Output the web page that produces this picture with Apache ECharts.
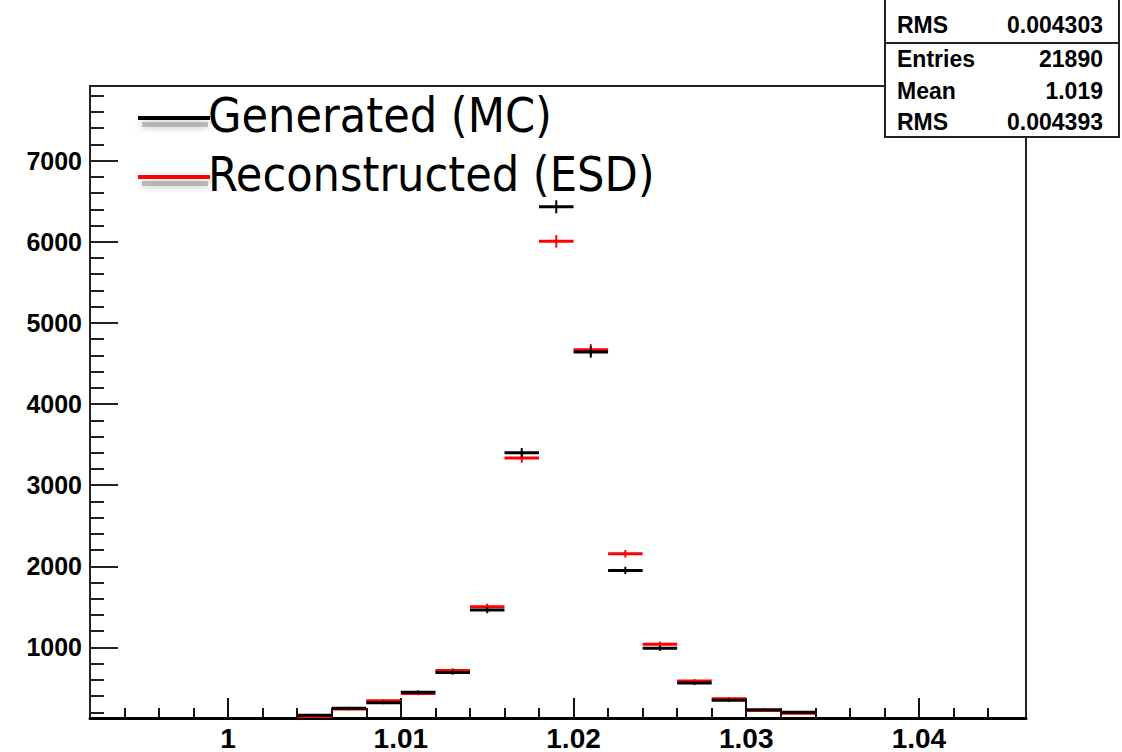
<!DOCTYPE html>
<html>
<head>
<meta charset="utf-8">
<script src="https://cdn.jsdelivr.net/npm/echarts@6/dist/echarts.min.js"></script>
<style>
html,body{margin:0;padding:0;background:#fff;}
#chart{width:1122px;height:752px;}
</style>
</head>
<body>
<div id="chart"></div>
<script>
// ---- data ----
var binCenters = [1.005, 1.007, 1.009, 1.011, 1.013, 1.015, 1.017, 1.019, 1.021, 1.023, 1.025, 1.027, 1.029, 1.031, 1.033];
var generatedMC = [165, 250, 318, 448, 690, 1460, 3399, 6431, 4640, 1949, 990, 560, 348, 232, 200];
var reconstructedESD = [140, 240, 343, 432, 717, 1500, 3334, 6005, 4670, 2154, 1040, 585, 367, 222, 190];
var binWidth = 0.002;

var xMajorTicks = [1, 1.01, 1.02, 1.03, 1.04];
var xMinorTicks = [0.994, 0.996, 0.998, 1.002, 1.004, 1.006, 1.008, 1.012, 1.014, 1.016, 1.018, 1.022, 1.024, 1.026, 1.028, 1.032, 1.034, 1.036, 1.038, 1.042, 1.044];
var yMajorTicks = [1000, 2000, 3000, 4000, 5000, 6000, 7000];
var yMinorTicks = [200, 400, 600, 800, 1200, 1400, 1600, 1800, 2200, 2400, 2600, 2800, 3200, 3400, 3600, 3800, 4200, 4400, 4600, 4800, 5200, 5400, 5600, 5800, 6200, 6400, 6600, 6800, 7200, 7400, 7600, 7800];

var legendNames = ['Generated (MC)', 'Reconstructed (ESD)'];
var statsRows = [['RMS', '0.004303'], ['Entries', '21890'], ['Mean', '1.019'], ['RMS', '0.004393']];

var X_MIN = 0.992, X_MAX = 1.0462, Y_MIN = 130, Y_MAX = 7920;

function pairs(xs, ys){ return xs.map(function(x,i){ return [x, ys[i]]; }); }

function makeRender(color){
  return function(params, api){
    var c = api.value(0), v = api.value(1);
    var lo = api.coord([c - binWidth/2, v]);
    var hi = api.coord([c + binWidth/2, v]);
    var e = Math.sqrt(v);
    var top = api.coord([c, v + e]);
    var bot = api.coord([c, v - e]);
    return {type:'group', children:[
      {type:'line', shape:{x1:lo[0], y1:lo[1], x2:hi[0], y2:hi[1]}, style:{stroke:color, lineWidth:3}},
      {type:'line', shape:{x1:top[0], y1:top[1], x2:bot[0], y2:bot[1]}, style:{stroke:color, lineWidth:2}}
    ]};
  };
}

var chart = echarts.init(document.getElementById('chart'), null, {renderer:'svg'});

var labelFont = {fontFamily:'Liberation Sans, Arial, sans-serif', fontWeight:'bold', color:'#000'};

var graphics = [];
// legend
var legendColors = ['#000000', '#ff0000'];
var legendY = [118, 177];
legendNames.forEach(function(name, i){
  graphics.push({type:'rect', shape:{x:142, y:legendY[i]+4, width:66, height:5},
    style:{fill:'rgba(150,150,150,0.6)', shadowBlur:8, shadowColor:'rgba(110,110,110,0.8)'}, z:9});
  graphics.push({type:'rect', shape:{x:138, y:legendY[i]-2, width:72, height:4},
    style:{fill:legendColors[i]}, z:10});
  graphics.push({type:'text', x:208, y:legendY[i]-3, style:{text:name, fill:'#000',
    font:'48px "DejaVu Sans Condensed", "DejaVu Sans", sans-serif', verticalAlign:'middle', align:'left'}, z:11});
});
// stats boxes
graphics.push({type:'rect', shape:{x:885, y:-10, width:234, height:53}, style:{fill:'#fff', stroke:'#222', lineWidth:2}, z:20});
graphics.push({type:'rect', shape:{x:885, y:43, width:234, height:94}, style:{fill:'#fff', stroke:'#222', lineWidth:2}, z:20});
var statsY = [25, 59, 91, 122];
statsRows.forEach(function(r, i){
  graphics.push({type:'text', x:897, y:statsY[i], style:{text:r[0], fill:'#000', font:'bold 23px "Liberation Sans", Arial, sans-serif', verticalAlign:'middle', align:'left'}, z:21});
  graphics.push({type:'text', x:1103, y:statsY[i], style:{text:r[1], fill:'#000', font:'bold 23px "Liberation Sans", Arial, sans-serif', verticalAlign:'middle', align:'right'}, z:21});
});

var option = {
  backgroundColor:'#fff',
  animation:false,
  grid:{left:90, right:96, top:86, bottom:32, show:true, borderColor:'#222', borderWidth:2, backgroundColor:'transparent'},
  xAxis:[{
    type:'value', min:X_MIN, max:X_MAX, position:'bottom',
    axisLine:{show:true, lineStyle:{color:'#000', width:3}},
    axisTick:{show:true, inside:true, length:20, customValues:xMajorTicks, lineStyle:{color:'#111', width:2}},
    axisLabel:Object.assign({show:true, fontSize:28, margin:6, customValues:xMajorTicks, formatter:function(v){return String(v);}}, labelFont),
    splitLine:{show:false}
  },{
    type:'value', min:X_MIN, max:X_MAX, position:'bottom',
    axisLine:{show:false},
    axisTick:{show:true, inside:true, length:10, customValues:xMinorTicks, lineStyle:{color:'#111', width:2}},
    axisLabel:{show:false},
    splitLine:{show:false}
  }],
  yAxis:[{
    type:'value', min:Y_MIN, max:Y_MAX, position:'left',
    axisLine:{show:true, lineStyle:{color:'#222', width:2}},
    axisTick:{show:true, inside:true, length:28, customValues:yMajorTicks, lineStyle:{color:'#222', width:2}},
    axisLabel:Object.assign({show:true, fontSize:25, margin:8, customValues:yMajorTicks, formatter:function(v){return String(v);}}, labelFont),
    splitLine:{show:false}
  },{
    type:'value', min:Y_MIN, max:Y_MAX, position:'left',
    axisLine:{show:false},
    axisTick:{show:true, inside:true, length:14, customValues:yMinorTicks, lineStyle:{color:'#222', width:2}},
    axisLabel:{show:false},
    splitLine:{show:false}
  }],
  series:[{
    name:legendNames[1], type:'custom', xAxisIndex:0, yAxisIndex:0,
    renderItem:makeRender('#ff0000'), data:pairs(binCenters, reconstructedESD), z:3, clip:true
  },{
    name:legendNames[0], type:'custom', xAxisIndex:0, yAxisIndex:0,
    renderItem:makeRender('#000000'), data:pairs(binCenters, generatedMC), z:4, clip:true
  }],
  graphic:graphics
};
chart.setOption(option);
</script>
</body>
</html>
